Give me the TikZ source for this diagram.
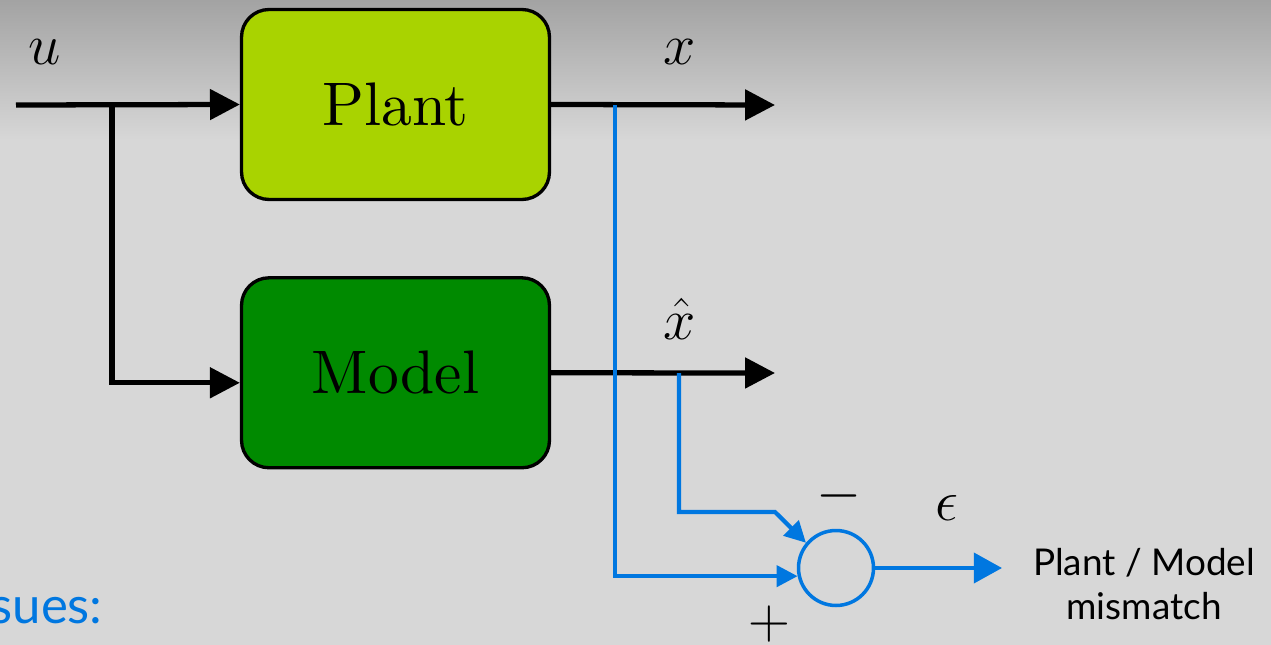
\RequirePackage{fix-cm}
\documentclass[tikz,border=0pt]{standalone}
\usepackage{fontspec}
\newfontfamily\labelfont{Lato}
\newfontfamily\blockfont[Extension=.otf]{lmroman10-regular}
\usetikzlibrary{positioning,arrows.meta}
\definecolor{plantgreen}{RGB}{169,211,0}
\definecolor{modelgreen}{RGB}{0,138,0}
\definecolor{errblue}{RGB}{0,119,224}
\definecolor{bggray}{RGB}{215,215,215}
\definecolor{topgray}{RGB}{163,163,163}

\begin{document}
\begin{tikzpicture}[
    x=0.02cm, y=-0.02cm,
    node distance=1.5cm,
    block/.style={draw, line width=1.9pt, rounded corners=0.55cm, minimum width=6.16cm, minimum height=3.8cm, align=center, font=\blockfont\fontsize{35}{40}\selectfont},
    lbl/.style={font=\fontsize{33}{38}\selectfont, inner sep=0pt},
    sumnode/.style={draw=errblue, circle, line width=2pt, minimum size=1.5cm, inner sep=0pt},
    arr/.style={-{Triangle[length=17pt, width=17pt]}, line width=3pt},
    barr/.style={-{Triangle[length=12pt, width=12pt]}, line width=2.4pt, color=errblue},
    bigbarr/.style={-{Triangle[length=16pt, width=17pt]}, line width=2.4pt, color=errblue}
]
\useasboundingbox (0,0) rectangle (1271,645);
\clip (0,0) rectangle (1271,645);
% background
\fill[bggray] (0,0) rectangle (1271,645);
\shade[top color=topgray, bottom color=bggray] (0,0) rectangle (1271,140);

\node[block, fill=plantgreen] (plant) at (395.5,104.5) {Plant};
\node[block, fill=modelgreen, below=1.5cm of plant] (model) {Model};
\node[sumnode] (sum) at (836,568) {};

\coordinate (in) at (16,105);
\coordinate (split) at (112,105);
\coordinate (xout) at (775,105);
\coordinate (xhatout) at (775,373);
\coordinate (ptap) at (615,105);
\coordinate (mtap) at (679,373);
\coordinate (mbend) at (775,512);
\coordinate (eps) at (1002,568);

\node[lbl, anchor=base] (ulbl) at (45,65) {$u$};
\node[lbl, anchor=base] (xlbl) at (680,65) {$x$};
\node[lbl, anchor=base] (xhatlbl) at (680,339) {$\hat{x}$};
\node[lbl, anchor=base] (epslbl) at (947,520) {$\epsilon$};
\node[lbl] (minus) at (839,496) {$-$};
\node[lbl] (plus) at (769,624) {$+$};
\node[font=\labelfont\fontsize{21}{25}\selectfont, align=center] (mis) at (1144,584) {Plant / Model\\mismatch};
\node[font=\labelfont\fontsize{29}{34}\selectfont, text=errblue, anchor=base east, inner sep=0pt] (issues) at (103,623) {Issues:};

\draw[arr] (in) -- (plant.west);
\draw[arr] (split) |- ([yshift=-0.2cm]model.west);
\draw[arr] (plant.east) -- (xout);
\draw[arr] (model.east) -- (xhatout);

\draw[barr] (ptap) |- (sum.192);
\draw[barr] (mtap) |- (mbend) -- (sum.140);
\draw[bigbarr] (sum.east) -- (eps);
\end{tikzpicture}
\end{document}
